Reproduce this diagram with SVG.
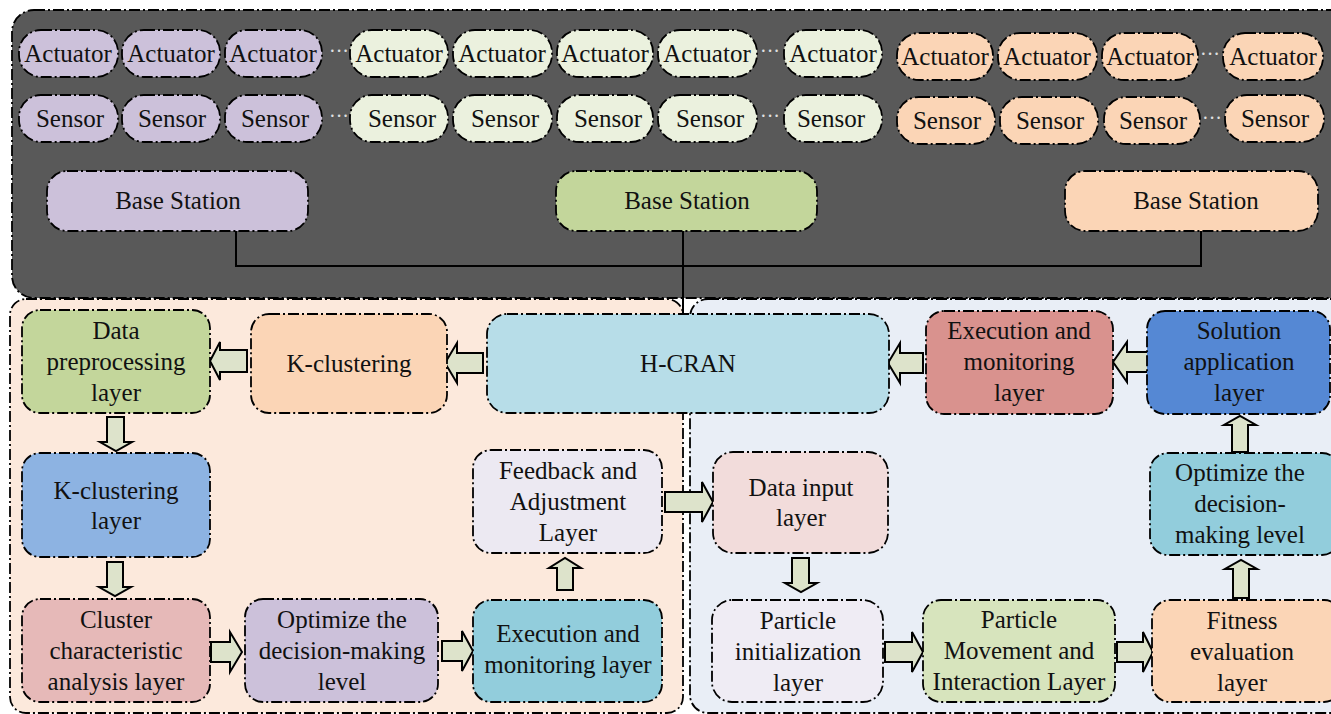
<svg xmlns="http://www.w3.org/2000/svg" width="1331" height="714" viewBox="0 0 1331 714">
  <style>
    .dd { stroke: #000; stroke-width: 1.8; stroke-dasharray: 11 3 2 3; }
    .t { font-family: "Liberation Serif", "Times New Roman", serif; font-size: 25px; fill: #111; text-anchor: middle; }
    .dots { font-family: "Liberation Serif", serif; font-size: 20px; fill: #e0e0e0; text-anchor: middle; }
    .ar { fill: #dde3cb; stroke: #000; stroke-width: 2; stroke-linejoin: miter; }
    .wire { fill: none; stroke: #000; stroke-width: 2; }
    .pu { fill: #ccc1da; }
    .gr { fill: #ebf1de; }
    .or { fill: #fbd5b6; }
  </style>

  <rect width="1331" height="714" fill="#ffffff"/>

  <!-- panels -->
  <g id="panel-devices">
    <rect x="12" y="10" width="1340" height="288" rx="22" fill="#595959" class="dd"/>
  </g>
  <g id="panel-clustering">
    <rect x="10" y="299" width="673" height="414" rx="16" fill="#fce9dc" class="dd"/>
  </g>
  <g id="panel-pso">
    <rect x="690" y="299" width="660" height="414" rx="18" fill="#e9eef6" class="dd"/>
  </g>

  <!-- actuator / sensor pills -->
  <g id="actuators">
    <rect class="pu dd" x="19" y="30" width="99" height="47" rx="22"/>
    <rect class="pu dd" x="122" y="30" width="98" height="47" rx="22"/>
    <rect class="pu dd" x="225" y="30" width="97" height="47" rx="22"/>
    <rect class="gr dd" x="350" y="30" width="98" height="47" rx="22"/>
    <rect class="gr dd" x="453" y="30" width="99" height="47" rx="22"/>
    <rect class="gr dd" x="557" y="30" width="96" height="47" rx="22"/>
    <rect class="gr dd" x="658" y="30" width="99" height="47" rx="22"/>
    <rect class="gr dd" x="784" y="30" width="98" height="47" rx="22"/>
    <rect class="or dd" x="897" y="33" width="96" height="47" rx="22"/>
    <rect class="or dd" x="998" y="33" width="99" height="47" rx="22"/>
    <rect class="or dd" x="1102" y="33" width="96" height="47" rx="22"/>
    <rect class="or dd" x="1223" y="33" width="100" height="47" rx="22"/>
    <text class="t" x="68" y="62">Actuator</text>
    <text class="t" x="171" y="62">Actuator</text>
    <text class="t" x="273" y="62">Actuator</text>
    <text class="t" x="399" y="62">Actuator</text>
    <text class="t" x="502" y="62">Actuator</text>
    <text class="t" x="605" y="62">Actuator</text>
    <text class="t" x="707" y="62">Actuator</text>
    <text class="t" x="833" y="62">Actuator</text>
    <text class="t" x="945" y="65">Actuator</text>
    <text class="t" x="1047" y="65">Actuator</text>
    <text class="t" x="1150" y="65">Actuator</text>
    <text class="t" x="1273" y="65">Actuator</text>
    <text class="dots" x="339" y="58">···</text>
    <text class="dots" x="770" y="58">···</text>
    <text class="dots" x="1210" y="61">···</text>
  </g>
  <g id="sensors">
    <rect class="pu dd" x="19" y="95" width="99" height="47" rx="22"/>
    <rect class="pu dd" x="122" y="95" width="98" height="47" rx="22"/>
    <rect class="pu dd" x="225" y="95" width="97" height="47" rx="22"/>
    <rect class="gr dd" x="350" y="95" width="98" height="47" rx="22"/>
    <rect class="gr dd" x="453" y="95" width="99" height="47" rx="22"/>
    <rect class="gr dd" x="557" y="95" width="96" height="47" rx="22"/>
    <rect class="gr dd" x="658" y="95" width="99" height="47" rx="22"/>
    <rect class="gr dd" x="784" y="95" width="98" height="47" rx="22"/>
    <rect class="or dd" x="897" y="97" width="98" height="47" rx="22"/>
    <rect class="or dd" x="1000" y="97" width="98" height="47" rx="22"/>
    <rect class="or dd" x="1104" y="97" width="96" height="47" rx="22"/>
    <rect class="or dd" x="1225" y="95" width="99" height="47" rx="22"/>
    <text class="t" x="70" y="127">Sensor</text>
    <text class="t" x="172" y="127">Sensor</text>
    <text class="t" x="275" y="127">Sensor</text>
    <text class="t" x="402" y="127">Sensor</text>
    <text class="t" x="505" y="127">Sensor</text>
    <text class="t" x="608" y="127">Sensor</text>
    <text class="t" x="710" y="127">Sensor</text>
    <text class="t" x="831" y="127">Sensor</text>
    <text class="t" x="947" y="129">Sensor</text>
    <text class="t" x="1050" y="129">Sensor</text>
    <text class="t" x="1153" y="129">Sensor</text>
    <text class="t" x="1275" y="127">Sensor</text>
    <text class="dots" x="339" y="123">···</text>
    <text class="dots" x="770" y="123">···</text>
    <text class="dots" x="1212" y="125">···</text>
  </g>

  <!-- base stations -->
  <g id="bs-left"><rect class="pu dd" x="47" y="171" width="261" height="60" rx="20"/><text class="t" x="178" y="209">Base Station</text></g>
  <g id="bs-mid"><rect class="dd" fill="#c3d69b" x="556" y="171" width="261" height="60" rx="20"/><text class="t" x="687" y="209">Base Station</text></g>
  <g id="bs-right"><rect class="or dd" x="1065" y="171" width="253" height="60" rx="20"/><text class="t" x="1196" y="209">Base Station</text></g>

  <!-- wiring from base stations to H-CRAN -->
  <g id="connectors">
    <path class="wire" d="M236 231 V266 H1201 V231"/>
    <path class="wire" d="M683 231 V315"/>

    <!-- block arrows -->
    <path class="ar" d="M247 350 H220 V342 L210 361 L220 380 V372 H247 Z"/>
    <path class="ar" d="M483 353 H457 V343 L445 363 L457 383 V373 H483 Z"/>
    <path class="ar" d="M923 353 H900 V343 L888 363 L900 383 V373 H923 Z"/>
    <path class="ar" d="M1148 352 H1127 V342 L1113 362 L1127 382 V372 H1148 Z"/>

    <path class="ar" d="M107 417 H124 V442 H132 L116 451 L100 442 H107 Z"/>
    <path class="ar" d="M107 562 H123 V587 H131 L115 596 L99 587 H107 Z"/>
    <path class="ar" d="M792 558 H809 V583 H817 L801 592 L785 583 H792 Z"/>

    <path class="ar" d="M557 590 H573 V568 H581 L565 558 L549 568 H557 Z"/>
    <path class="ar" d="M1233 598 H1249 V569 H1257 L1241 560 L1225 569 H1233 Z"/>
    <path class="ar" d="M1232 452 H1248 V425 H1256 L1240 416 L1224 425 H1232 Z"/>

    <path class="ar" d="M211 642 H230 V632 L242 652 L230 672 V662 H211 Z"/>
    <path class="ar" d="M442 641 H462 V631 L473 651 L462 671 V661 H442 Z"/>
    <path class="ar" d="M665 492 H702 V482 L713 502 L702 522 V512 H665 Z"/>
    <path class="ar" d="M885 642 H912 V632 L923 652 L912 672 V662 H885 Z"/>
    <path class="ar" d="M1117 642 H1143 V632 L1153 652 L1143 672 V662 H1117 Z"/>
  </g>

  <!-- clustering side -->
  <g id="data-preprocessing">
    <rect class="dd" fill="#c3d69b" x="22" y="310" width="188" height="103" rx="18"/>
    <text class="t" x="116" y="339">Data</text>
    <text class="t" x="116" y="370">preprocessing</text>
    <text class="t" x="116" y="401">layer</text>
  </g>
  <g id="k-clustering">
    <rect class="or dd" x="251" y="314" width="196" height="99" rx="18"/>
    <text class="t" x="349" y="372">K-clustering</text>
  </g>
  <g id="h-cran">
    <rect class="dd" fill="#b7dde8" x="487" y="314" width="402" height="99" rx="20"/>
    <text class="t" x="688" y="372">H-CRAN</text>
  </g>
  <g id="exec-monitor-top">
    <rect class="dd" fill="#d9928e" x="926" y="311" width="187" height="103" rx="18"/>
    <text class="t" x="1019" y="339">Execution and</text>
    <text class="t" x="1019" y="370">monitoring</text>
    <text class="t" x="1019" y="401">layer</text>
  </g>
  <g id="solution-application">
    <rect class="dd" fill="#5588d4" x="1147" y="311" width="183" height="103" rx="18"/>
    <text class="t" x="1239" y="339">Solution</text>
    <text class="t" x="1239" y="370">application</text>
    <text class="t" x="1239" y="401">layer</text>
  </g>
  <g id="k-clustering-layer">
    <rect class="dd" fill="#8db3e2" x="22" y="453" width="188" height="104" rx="18"/>
    <text class="t" x="116" y="499">K-clustering</text>
    <text class="t" x="116" y="529">layer</text>
  </g>
  <g id="cluster-analysis">
    <rect class="dd" fill="#e6b9b8" x="22" y="599" width="188" height="103" rx="18"/>
    <text class="t" x="116" y="628">Cluster</text>
    <text class="t" x="116" y="659">characteristic</text>
    <text class="t" x="116" y="690">analysis layer</text>
  </g>
  <g id="optimize-left">
    <rect class="pu dd" x="245" y="599" width="193" height="103" rx="18"/>
    <text class="t" x="342" y="628">Optimize the</text>
    <text class="t" x="342" y="659">decision-making</text>
    <text class="t" x="342" y="690">level</text>
  </g>
  <g id="feedback-adjustment">
    <rect class="dd" fill="#ece9f2" x="473" y="450" width="189" height="103" rx="18"/>
    <text class="t" x="568" y="479">Feedback and</text>
    <text class="t" x="568" y="510">Adjustment</text>
    <text class="t" x="568" y="541">Layer</text>
  </g>
  <g id="exec-monitor-bottom">
    <rect class="dd" fill="#92cddc" x="473" y="600" width="189" height="102" rx="18"/>
    <text class="t" x="568" y="642">Execution and</text>
    <text class="t" x="568" y="673">monitoring layer</text>
  </g>

  <!-- particle swarm side -->
  <g id="data-input">
    <rect class="dd" fill="#f2dcdb" x="713" y="452" width="175" height="101" rx="20"/>
    <text class="t" x="801" y="496">Data input</text>
    <text class="t" x="801" y="526">layer</text>
  </g>
  <g id="particle-init">
    <rect class="dd" fill="#efecf4" x="712" y="600" width="171" height="102" rx="20"/>
    <text class="t" x="798" y="629">Particle</text>
    <text class="t" x="798" y="660">initialization</text>
    <text class="t" x="798" y="691">layer</text>
  </g>
  <g id="particle-movement">
    <rect class="dd" fill="#d7e4bd" x="923" y="600" width="192" height="102" rx="18"/>
    <text class="t" x="1019" y="628">Particle</text>
    <text class="t" x="1019" y="659">Movement and</text>
    <text class="t" x="1019" y="690">Interaction Layer</text>
  </g>
  <g id="fitness-evaluation">
    <rect class="or dd" x="1152" y="600" width="190" height="102" rx="18"/>
    <text class="t" x="1242" y="629">Fitness</text>
    <text class="t" x="1242" y="660">evaluation</text>
    <text class="t" x="1242" y="691">layer</text>
  </g>
  <g id="optimize-right">
    <rect class="dd" fill="#92cddc" x="1150" y="453" width="190" height="102" rx="18"/>
    <text class="t" x="1240" y="481">Optimize the</text>
    <text class="t" x="1240" y="512">decision-</text>
    <text class="t" x="1240" y="543">making level</text>
  </g>
</svg>
